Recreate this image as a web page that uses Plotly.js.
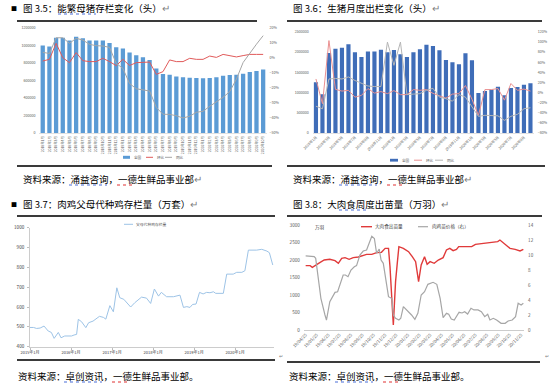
<!DOCTYPE html>
<html><head><meta charset="utf-8">
<script src="https://cdn.plot.ly/plotly-3.0.1.min.js"></script>
<style>html,body{margin:0;padding:0;background:#fff;}#chart{width:550px;height:388px;}</style>
</head><body><div id="chart"></div>
<script>
// ---------- data ----------
const months = ['2018年1月','2018年2月','2018年3月','2018年4月','2018年5月','2018年6月','2018年7月','2018年8月','2018年9月','2018年10月','2018年11月','2018年12月',
  '2019年1月','2019年2月','2019年3月','2019年4月','2019年5月','2019年6月','2019年7月','2019年8月','2019年9月','2019年10月','2019年11月','2019年12月',
  '2020年1月','2020年2月','2020年3月','2020年4月','2020年5月','2020年6月','2020年7月','2020年8月','2020年9月','2020年10月'];

// Fig 3.5 能繁母猪存栏
const sowInventory = [1000000,990000,1090000,1090000,1056000,1100000,1083000,1056000,1056000,1056000,1030000,980000,
  965000,920000,890000,867000,833000,738000,674000,666000,647000,636000,632000,628000,
  625000,628000,636000,655000,662000,666000,677000,696000,708000,727000];
const sowMoM = [-0.020,-0.009,0.098,0.002,-0.031,0.036,-0.018,-0.024,-0.024,-0.002,-0.024,-0.051,
  -0.009,-0.050,-0.031,-0.027,-0.027,-0.109,-0.091,-0.013,-0.024,-0.024,-0.002,-0.009,
  -0.009,0.013,0.004,0.024,0.013,0.007,0.016,0.024,0.024,0.024];
const sowYoY = [0.038,0.030,0.135,0.135,0.098,0.131,0.120,0.091,0.082,0.080,0.071,-0.036,
  -0.069,-0.170,-0.205,-0.212,-0.220,-0.330,-0.375,-0.376,-0.385,-0.400,-0.388,-0.362,
  -0.355,-0.322,-0.292,-0.262,-0.224,-0.140,-0.030,0.035,0.092,0.149];

// Fig 3.6 生猪月度出栏
const hogSlaughter = [1254000,957000,1980000,2087000,2110000,2195000,1997000,1880000,2020000,2020000,2060000,1997000,
  2055000,1947000,1880000,1997000,2070000,2186000,2153000,2046000,1807000,1749000,1700000,1972000,
  1800000,990000,1040000,1073000,1147000,932000,1114000,1139000,1196000,1229000];
const hogMoM = [0.27,-0.22,1.03,0.065,0.03,0.045,-0.09,-0.055,0.08,-0.01,0.02,-0.02,
  0.04,-0.04,-0.04,0.06,0.045,0.06,-0.015,-0.07,-0.11,-0.03,-0.02,0.14,
  -0.13,-0.45,0.06,0.06,0.08,-0.15,0.18,0.045,0.07,0.03];
const hogYoY = [-0.27,-0.32,0.27,0.28,0.27,0.31,0.24,0.19,0.13,0.12,0.12,1.00,
  0.54,1.00,-0.04,-0.03,-0.02,0.045,0.085,-0.09,-0.12,-0.17,-0.04,-0.09,
  -0.27,-0.47,-0.45,-0.45,-0.46,-0.55,-0.47,-0.43,-0.32,-0.30];

// Fig 3.7 父母代种鸡存栏量（万套）
const breederDates = ['2015-01-01','2015-02-01','2015-03-01','2015-04-01','2015-05-06','2015-06-12','2015-07-10','2015-08-04','2015-09-10','2015-10-04','2015-11-06',
  '2016-01-06','2016-01-28','2016-02-20','2016-03-06','2016-04-04','2016-05-12','2016-06-06','2016-07-15','2016-09-10','2016-10-15','2016-11-06','2016-12-12',
  '2017-01-12','2017-02-12','2017-03-10','2017-04-15','2017-06-15','2017-07-22','2017-09-20','2017-11-03','2017-12-10',
  '2018-01-12','2018-02-18','2018-03-15','2018-05-01','2018-07-01','2018-08-28','2018-09-28','2018-10-28','2018-11-25','2018-12-18',
  '2019-01-18','2019-02-18','2019-03-22','2019-04-22','2019-05-22','2019-06-22','2019-07-12','2019-09-18','2019-10-18','2019-12-15',
  '2020-01-15','2020-03-01','2020-03-28','2020-04-28','2020-07-10','2020-08-25','2020-10-10','2020-11-01','2020-12-01'];
const breederStock = [497,497,492,494,504,479,472,442,472,445,454,
  454,459,462,538,526,496,521,529,553,548,539,607,
  576,697,647,639,600,622,650,645,618,
  691,655,674,652,652,660,598,602,598,613,
  615,674,666,674,672,677,669,669,766,766,
  775,775,783,887,887,891,882,874,812];
const breederTickVals = ['2015-01-01','2016-01-01','2017-01-01','2018-01-01','2019-01-01','2020-01-01'];
const breederTickText = ['2015年1月','2016年1月','2017年1月','2018年1月','2019年1月','2020年1月'];

// Fig 3.8 出苗量（万羽） & 肉鸡苗价格（元，右）
const placeDates = ['2019-04-25','2019-05-07','2019-05-13','2019-05-22','2019-06-02','2019-06-14','2019-06-29','2019-07-13','2019-07-22','2019-07-31',
  '2019-08-09','2019-08-20','2019-08-31','2019-09-14','2019-09-25','2019-10-06','2019-10-20','2019-11-02','2019-11-15','2019-11-25',
  '2019-12-04','2019-12-08','2019-12-17','2019-12-23','2019-12-28','2020-01-01','2020-01-13','2020-01-27','2020-02-06','2020-02-15',
  '2020-02-23','2020-03-01','2020-03-10','2020-03-17','2020-03-25','2020-04-05','2020-04-16','2020-04-29','2020-05-08','2020-05-17',
  '2020-05-26','2020-06-04','2020-06-10','2020-06-26','2020-07-15','2020-07-25','2020-08-15','2020-09-02','2020-09-16','2020-09-23',
  '2020-09-29','2020-10-13','2020-10-26','2020-11-09','2020-11-22','2020-12-01'];
const placement = [1838,1838,1790,1857,1924,2000,2019,1981,1905,2048,
  2067,2019,2067,2086,2124,2162,2162,2210,2219,2333,
  2333,1810,143,1381,1952,2381,2333,2238,2095,1952,
  1381,1857,2095,1876,1952,1905,2000,2067,2286,2333,
  2267,2305,2381,2381,2381,2448,2476,2495,2524,2524,
  2571,2448,2333,2305,2257,2305];
const priceDates = ['2019-04-25','2019-05-11','2019-05-18','2019-05-22','2019-05-27','2019-06-05','2019-06-16','2019-06-20','2019-06-29','2019-07-13',
  '2019-07-20','2019-07-26','2019-08-04','2019-08-10','2019-08-17','2019-08-25','2019-09-03','2019-09-09','2019-09-18','2019-09-27',
  '2019-10-06','2019-10-20','2019-10-27','2019-11-02','2019-11-09','2019-11-14','2019-11-20','2019-12-04','2019-12-13','2019-12-17',
  '2019-12-23','2020-01-01','2020-01-06','2020-01-13','2020-01-22','2020-02-04','2020-02-13','2020-02-21','2020-03-01','2020-03-10',
  '2020-03-19','2020-03-27','2020-04-02','2020-04-12','2020-04-21','2020-04-29','2020-05-08','2020-05-14','2020-05-21','2020-05-29',
  '2020-06-06','2020-06-11','2020-06-19','2020-06-26','2020-07-04','2020-07-13','2020-07-21','2020-08-01','2020-08-10','2020-08-19',
  '2020-08-27','2020-09-02','2020-09-11','2020-09-20','2020-10-02','2020-10-13','2020-10-21','2020-11-01','2020-11-10','2020-11-17',
  '2020-11-25','2020-12-01'];
const chickPrice = [9.87,9.87,9.78,9.56,7.33,4.22,2.0,1.33,3.78,5.02,
  5.1,6.0,7.33,7.33,7.11,8.0,8.44,8.58,10.0,10.53,
  10.67,12.5,12.2,10.2,10.8,9.33,8.89,4.44,4.22,2.0,
  1.56,1.33,1.56,3.11,2.67,2.0,1.42,2.22,4.67,5.1,
  6.09,6.22,6.36,6.09,4.22,1.64,2.22,2.09,1.47,1.33,
  1.91,2.36,2.27,2.44,2.13,2.89,2.67,2.67,2.44,1.78,
  2.09,1.33,1.56,1.33,0.89,0.89,1.2,1.33,1.78,3.56,
  3.33,3.56];
const chickTickVals = ['2019-04-25','2019-05-25','2019-06-25','2019-07-25','2019-08-25','2019-09-25','2019-10-25','2019-11-25','2019-12-25','2020-01-25',
  '2020-02-25','2020-03-25','2020-04-25','2020-05-25','2020-06-25','2020-07-25','2020-08-25','2020-09-25','2020-10-25','2020-11-25'];
const chickTickText = ['19/04/25','19/05/25','19/06/25','19/07/25','19/08/25','19/09/25','19/10/25','19/11/25','19/12/25','20/01/25',
  '20/02/25','20/03/25','20/04/25','20/05/25','20/06/25','20/07/25','20/08/25','20/09/25','20/10/25','20/11/25'];

// ---------- layout helpers ----------
const W = 550, H = 388;
const px = x => x / W;
const py = y => 1 - y / H;
const CJK = '"Noto Sans CJK SC", "Noto Sans", sans-serif';
const tickF = (s, c) => ({family: CJK, size: s, color: c || '#595959'});

const C1BAR = '#5B9BD5', C1RED = '#E05A5A', GRAY = '#A6A6A6';
const C2BAR = '#3F6DB8', C2RED = '#EA9090';
const C3LINE = '#9DC3E6';
const C4RED = '#E03A3A';

const traces = [
  {type:'bar', x: months, y: sowInventory, xaxis:'x', yaxis:'y', marker:{color:C1BAR}, name:'全国'},
  {type:'scatter', mode:'lines', x: months, y: sowMoM, xaxis:'x', yaxis:'y2', line:{color:C1RED, width:1}, name:'环比'},
  {type:'scatter', mode:'lines', x: months, y: sowYoY, xaxis:'x', yaxis:'y2', line:{color:GRAY, width:1}, name:'同比'},

  {type:'bar', x: months, y: hogSlaughter, xaxis:'x2', yaxis:'y3', marker:{color:C2BAR}, name:'全国'},
  {type:'scatter', mode:'lines', x: months, y: hogMoM, xaxis:'x2', yaxis:'y4', line:{color:C2RED, width:1}, name:'环比'},
  {type:'scatter', mode:'lines', x: months, y: hogYoY, xaxis:'x2', yaxis:'y4', line:{color:'#B5B5B5', width:1}, name:'同比'},

  {type:'scatter', mode:'lines', x: breederDates, y: breederStock, xaxis:'x3', yaxis:'y5', line:{color:C3LINE, width:1}, name:'父母代种鸡存栏量'},

  {type:'scatter', mode:'lines', x: placeDates, y: placement, xaxis:'x4', yaxis:'y6', line:{color:C4RED, width:1.4}, name:'大肉食出苗量'},
  {type:'scatter', mode:'lines', x: priceDates, y: chickPrice, xaxis:'x4', yaxis:'y7', line:{color:GRAY, width:1.2}, name:'肉鸡苗价格（右）'}
];

const noGrid = {showgrid:false, zeroline:false, fixedrange:true};

const layout = {
  width: W, height: H, margin:{l:0,r:0,t:0,b:0}, paper_bgcolor:'#fff', plot_bgcolor:'rgba(0,0,0,0)',
  showlegend:false, bargap:0.36, font:{family:CJK, color:'#000'},
  // chart 1
  xaxis: Object.assign({}, noGrid, {domain:[px(39.4), px(266.5)], anchor:'y', type:'category', tickangle:-90, tickfont:tickF(3.4),
    showline:true, linecolor:'#D9D9D9', linewidth:0.8, ticks:'', tickmode:'array', tickvals: months, ticktext: months, ticklabelstandoff:1}),
  yaxis: Object.assign({}, noGrid, {domain:[py(133), py(28)], anchor:'x', range:[0,1200000], dtick:200000, tickformat:'d', tickfont:tickF(3.6), ticks:'', ticklabelstandoff:3}),
  yaxis2: Object.assign({}, noGrid, {overlaying:'y', anchor:'x', side:'right', range:[-0.5,0.2], dtick:0.1, tickformat:'.0%', tickfont:tickF(3.6), ticks:'', ticklabelstandoff:2}),
  // chart 2
  xaxis2: Object.assign({}, noGrid, {domain:[px(312.7), px(533.7)], anchor:'y3', type:'category', tickangle:-45, tickfont:tickF(3.6),
    showline:true, linecolor:'#D9D9D9', linewidth:0.8, ticks:'', tickmode:'array', tickvals: months.filter((m,i)=>i%2===0), ticktext: months.filter((m,i)=>i%2===0)}),
  yaxis3: Object.assign({}, noGrid, {domain:[py(133), py(32)], anchor:'x2', range:[0,2500000], dtick:500000, tickformat:'d', tickfont:tickF(3.6), ticks:'', ticklabelstandoff:3}),
  yaxis4: Object.assign({}, noGrid, {overlaying:'y3', anchor:'x2', side:'right', range:[-0.8,1.2], dtick:0.2, tickformat:'.0%', tickfont:tickF(3.6), ticks:'', ticklabelstandoff:3}),
  // chart 3
  xaxis3: Object.assign({}, noGrid, {domain:[px(30), px(274)], anchor:'y5', type:'date', range:['2015-01-01','2020-12-12'], tickmode:'array',
    tickvals: breederTickVals, ticktext: breederTickText, tickangle:0, tickfont:tickF(4, '#404040'), showline:true, linecolor:'#BFBFBF', linewidth:0.8, ticks:'outside', ticklen:2, tickcolor:'#BFBFBF'}),
  yaxis5: Object.assign({}, noGrid, {domain:[py(346.7), py(227.7)], anchor:'x3', range:[400,1000], dtick:100, tickmode:'linear', tick0:400, tickformat:'d', tickfont:tickF(4.6, '#404040'),
    showline:true, linecolor:'#BFBFBF', linewidth:0.8, ticks:'outside', ticklen:2, tickcolor:'#BFBFBF', ticklabelstandoff:2}),
  // chart 4
  xaxis4: Object.assign({}, noGrid, {domain:[px(303.8), px(524.1)], anchor:'y6', type:'date', range:['2019-04-20','2020-12-03'], tickmode:'array',
    tickvals: chickTickVals, ticktext: chickTickText, tickangle:-45, tickfont:tickF(4.3), showline:true, linecolor:'#BFBFBF', linewidth:0.8, ticks:''}),
  yaxis6: Object.assign({}, noGrid, {domain:[py(330), py(225)], anchor:'x4', range:[0,3000], dtick:500, tickformat:'d', tickfont:tickF(4.6), ticks:'', ticklabelstandoff:3}),
  yaxis7: Object.assign({}, noGrid, {overlaying:'y6', anchor:'x4', side:'right', range:[0,14], dtick:2, tickfont:tickF(4.6), ticks:'', ticklabelstandoff:3}),
  shapes: [], annotations: []
};

const S = layout.shapes, A = layout.annotations;
function hline(x0, x1, y, color, w){ S.push({type:'line', xref:'paper', yref:'paper', x0:px(x0), x1:px(x1), y0:py(y), y1:py(y), line:{color:color, width:w}}); }
function rect(x0, x1, y0, y1, color){ S.push({type:'rect', xref:'paper', yref:'paper', x0:px(x0), x1:px(x1), y0:py(y1), y1:py(y0), fillcolor:color, line:{width:0}}); }
function wavy(x0, x1, y, color){ S.push({type:'line', xref:'paper', yref:'paper', x0:px(x0), x1:px(x1), y0:py(y), y1:py(y), line:{color:color, width:1, dash:'dot'}}); }
function text(x, y, t, size, color, anchor){ A.push({xref:'paper', yref:'paper', x:px(x), y:py(y), text:t, showarrow:false, xanchor:anchor||'left', yanchor:'middle',
  font:{family:CJK, size:size, color:color||'#000'}}); }
const RET = '<span style="color:#7f7f7f">↵</span>';

// section dividers
hline(17, 257, 21, '#3a3a3a', 2);  hline(17, 272, 166, '#3a3a3a', 2);
hline(287, 542, 21, '#3a3a3a', 2); hline(287, 545, 166, '#3a3a3a', 2);
hline(17, 275, 216, '#3a3a3a', 2); hline(17, 275, 360, '#3a3a3a', 2);
hline(287, 542, 216, '#3a3a3a', 2); hline(287, 540, 362, '#3a3a3a', 2);

// titles
text(9, 8, '■', 6);
text(21, 8, '图 3.5：能繁母猪存栏变化（头）' + RET, 9.5);
text(291, 8, '图 3.6：生猪月度出栏变化（头）' + RET, 9.5);
text(9, 204, '■', 6);
text(21, 204, '图 3.7：肉鸡父母代种鸡存栏量（万套）' + RET, 9.5);
text(291, 204, '图 3.8：大肉食周度出苗量（万羽）' + RET, 9.5);

// captions
text(21, 179, '资料来源：涌益咨询，一德生鲜品事业部' + RET, 9.5);
text(291, 179, '资料来源：涌益咨询，一德生鲜品事业部' + RET, 9.5);
text(16, 376, '资料来源：卓创资讯，一德生鲜品事业部。', 9.5);
text(287, 376, '资料来源：卓创资讯，一德生鲜品事业部。', 9.5);

// spell-check squiggles
wavy(58, 96, 14, '#4a6fd8');
wavy(69, 107, 185, '#4a6fd8'); wavy(117, 135, 185, '#e03030');
wavy(339, 377, 185, '#4a6fd8'); wavy(387, 405, 185, '#e03030');
wavy(64, 102, 382, '#4a6fd8'); wavy(112, 130, 382, '#e03030');
wavy(335, 373, 382, '#4a6fd8'); wavy(383, 401, 382, '#e03030');
wavy(339, 367, 210, '#4a6fd8');

// legends chart 1
rect(123, 130, 155.8, 158.8, C1BAR); text(131.5, 157.3, '全国', 3.6, '#595959');
hline(146, 153, 157.3, C1RED, 1);   text(154.5, 157.3, '环比', 3.6, '#595959');
hline(165, 172, 157.3, GRAY, 1);    text(173.5, 157.3, '同比', 3.6, '#595959');
// legends chart 2
rect(390, 398, 158.8, 161.6, C2BAR); text(399.5, 160.2, '全国', 3.6, '#595959');
hline(414, 422, 160.2, C2RED, 1);    text(423.5, 160.2, '环比', 3.6, '#595959');
hline(435, 443, 160.2, '#B5B5B5', 1); text(444.5, 160.2, '同比', 3.6, '#595959');
// legend chart 3
hline(124, 133, 224.3, C3LINE, 1); text(133.5, 224.3, '父母代种鸡存栏量', 3.8, '#595959');
// legend chart 4
hline(361, 372, 226.7, C4RED, 1.4); text(372.5, 226.7, '大肉食出苗量', 4.6, '#404040');
hline(418, 428, 226.7, GRAY, 1.2);  text(429.5, 226.7, '肉鸡苗价格（右）', 4.6, '#404040');
text(313, 227.5, '万羽', 4.6, '#404040');
text(277, 355, '↵', 5, '#7f7f7f'); text(543, 355, '↵', 5, '#7f7f7f');

Plotly.newPlot('chart', traces, layout, {staticPlot:true, displayModeBar:false});
</script></body></html>
